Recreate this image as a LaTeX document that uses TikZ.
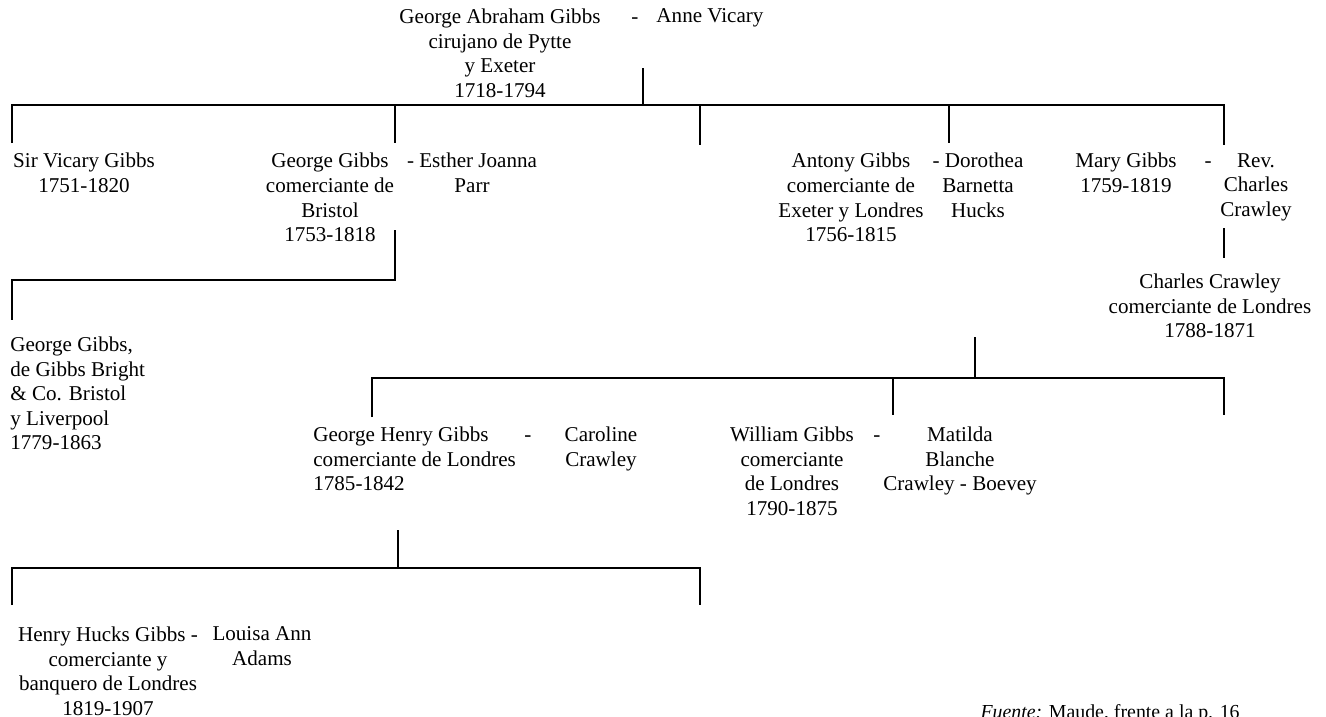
\documentclass[tikz,border=0pt]{standalone}
\usepackage{fontspec}
\setmainfont{Liberation Serif}
\usetikzlibrary{positioning}

\begin{document}
\begin{tikzpicture}[x=0.02cm, y=-0.02cm,
    persona/.style={align=center, anchor=north, inner sep=0pt, font=\fontsize{12}{14}\selectfont},
    personaizq/.style={persona, align=left, anchor=north west},
    guion/.style={persona, anchor=base},
    rama/.style={line width=0.7pt}
]
    \useasboundingbox (0,0) rectangle (1326,717);
    % primera generacion
    \node[persona] (gag) at (500,8.5) {George Abraham Gibbs\\cirujano de Pytte\\y Exeter\\1718-1794};
    \node[guion] (g0) at (635,23) {-};
    \node[persona] (av) at (710,8.5) {Anne Vicary};
    % hijos
    \node[persona] (svg) at (84,153) {Sir Vicary Gibbs\\1751-1820};
    \node[persona] (gg) at (330,153) {George Gibbs\\comerciante de\\Bristol\\1753-1818};
    \node[persona] (ejp) at (472,153) {- Esther Joanna\\Parr};
    \node[persona] (ag) at (851,153) {Antony Gibbs\\comerciante de\\Exeter y Londres\\1756-1815};
    \node[persona] (dbh) at (978,153) {- Dorothea\\Barnetta\\Hucks};
    \node[persona] (mg) at (1126,153) {Mary Gibbs\\1759-1819};
    \node[guion] (g1) at (1208,167.5) {-};
    \node[persona] (rcc) at (1256,153) {Rev.\\Charles\\Crawley};
    \node[persona] (ccl) at (1210,273.5) {Charles Crawley\\comerciante de Londres\\1788-1871};
    \node[personaizq] (ggb) at (10,336.5) {George Gibbs,\\de Gibbs Bright\\\& Co. Bristol\\y Liverpool\\1779-1863};
    % nietos
    \node[personaizq] (ghg) at (313,426.5) {George Henry Gibbs\\comerciante de Londres\\1785-1842};
    \node[guion] (g2) at (528,441) {-};
    \node[persona] (cc) at (601,426.5) {Caroline\\Crawley};
    \node[persona] (wg) at (792,426.5) {William Gibbs\\comerciante\\de Londres\\1790-1875};
    \node[guion] (g3) at (877,441) {-};
    \node[persona] (mbc) at (960,426.5) {Matilda\\Blanche\\Crawley - Boevey};
    \node[persona] (hhg) at (108,626.5) {Henry Hucks Gibbs -\\comerciante y\\banquero de Londres\\1819-1907};
    \node[persona] (laa) at (262,626.5) {Louisa Ann\\Adams};
    \node[anchor=base east, inner sep=0pt, font=\fontsize{11.3}{14}\selectfont] (fte) at (1240,718) {\textit{Fuente:} Maude, frente a la p. 16};

    % ramas
    \coordinate (r0) at (643,68);
    \coordinate (b0a) at (12,105);   \coordinate (b0b) at (395,105);
    \coordinate (b0c) at (643,105);  \coordinate (b0d) at (700,105);
    \coordinate (b0e) at (949,105);  \coordinate (b0f) at (1224,105);
    \coordinate (d0a) at (12,143);   \coordinate (d0b) at (395,143);
    \coordinate (d0d) at (700,145);  \coordinate (d0e) at (949,143);
    \coordinate (d0f) at (1224,145);
    \draw[rama] (r0) -- (b0c);
    \draw[rama] (d0a) -- (b0a) -- (b0f) -- (d0f);
    \draw[rama] (b0b) -- (d0b);
    \draw[rama] (b0d) -- (d0d);
    \draw[rama] (b0e) -- (d0e);

    \coordinate (r1) at (395,230);
    \coordinate (b1a) at (395,280);  \coordinate (b1b) at (12,280);
    \coordinate (d1b) at (12,320);
    \draw[rama] (r1) -- (b1a) -- (b1b) -- (d1b);

    \coordinate (r2) at (1224,228);  \coordinate (d2) at (1224,258);
    \draw[rama] (r2) -- (d2);

    \coordinate (r3) at (975,337);
    \coordinate (b3a) at (372,378);  \coordinate (b3b) at (893,378);
    \coordinate (b3c) at (975,378);  \coordinate (b3d) at (1224,378);
    \coordinate (d3a) at (372,417);  \coordinate (d3b) at (893,415);
    \coordinate (d3d) at (1224,415);
    \draw[rama] (r3) -- (b3c);
    \draw[rama] (d3a) -- (b3a) -- (b3d) -- (d3d);
    \draw[rama] (b3b) -- (d3b);

    \coordinate (r4) at (398,530);
    \coordinate (b4a) at (12,568);   \coordinate (b4b) at (398,568);
    \coordinate (b4c) at (700,568);
    \coordinate (d4a) at (12,605);   \coordinate (d4c) at (700,605);
    \draw[rama] (r4) -- (b4b);
    \draw[rama] (d4a) -- (b4a) -- (b4c) -- (d4c);
\end{tikzpicture}
\end{document}
